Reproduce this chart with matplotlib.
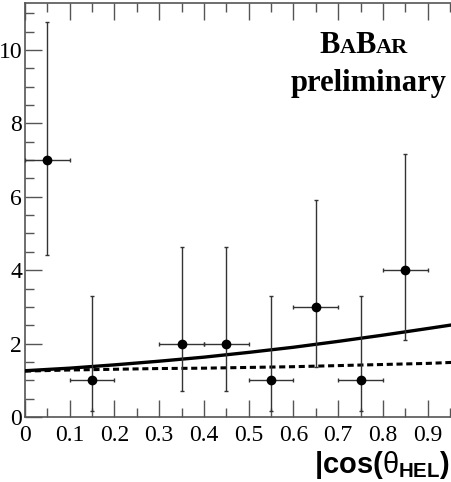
import matplotlib
matplotlib.use('Agg')
import matplotlib.pyplot as plt
from matplotlib.ticker import MultipleLocator
from matplotlib.offsetbox import TextArea, HPacker, AnchoredOffsetbox

# ── Data ─────────────────────────────────────────────────────────────────────
bin_x = [0.05, 0.15, 0.35, 0.45, 0.55, 0.65, 0.75, 0.85]
bin_half = [0.05] * 8
counts = [7, 1, 2, 2, 1, 3, 1, 4]
err_lo = [2.58, 0.83, 1.29, 1.29, 0.83, 1.63, 0.83, 1.91]
err_hi = [3.77, 2.30, 2.64, 2.64, 2.30, 2.92, 2.30, 3.16]

curve_x = [0.0, 0.1, 0.2, 0.3, 0.4, 0.5, 0.6, 0.7, 0.8, 0.9, 0.96]
total_fit = [1.26, 1.33, 1.42, 1.52, 1.63, 1.76, 1.90, 2.06, 2.23, 2.41, 2.52]
bkg_fit = [1.25, 1.28, 1.30, 1.32, 1.33, 1.35, 1.37, 1.40, 1.43, 1.46, 1.49]

x_ticks = [0.0, 0.1, 0.2, 0.3, 0.4, 0.5, 0.6, 0.7, 0.8, 0.9]
x_ticklabels = ['0', '0.1', '0.2', '0.3', '0.4', '0.5', '0.6', '0.7', '0.8', '0.9']
y_ticks = [0, 2, 4, 6, 8, 10]
y_ticklabels = ['0', '2', '4', '6', '8', '10']

SERIF = 'Liberation Serif'
AXCOL = '#555555'

plt.rcParams['mathtext.fontset'] = 'custom'
plt.rcParams['mathtext.rm'] = 'Liberation Sans'
plt.rcParams['mathtext.it'] = 'Liberation Sans'
plt.rcParams['mathtext.bf'] = 'Liberation Sans:bold'

fig = plt.figure(figsize=(4.51, 4.82), dpi=100, facecolor='white')
ax = fig.add_axes([0.0554, 0.1349, 0.9446, 0.8589])

ax.plot(curve_x, total_fit, color='black', lw=2.4, zorder=3)
ax.plot(curve_x, bkg_fit, color='black', lw=2.2, ls=(0, (2.0, 1.2)), zorder=3)

ax.errorbar(bin_x, counts, xerr=bin_half, yerr=[err_lo, err_hi],
            fmt='o', color='black', ms=6, ecolor='#333333', elinewidth=1.0,
            capsize=1.5, capthick=1.0, zorder=4)

ax.set_xlim(0, 0.952)
ax.set_ylim(0, 11.28)

ax.xaxis.set_minor_locator(MultipleLocator(0.05))
ax.yaxis.set_minor_locator(MultipleLocator(0.5))

ax.tick_params(which='both', direction='in', top=True, right=False,
               color=AXCOL, width=1.0)
ax.tick_params(which='major', length=12)
ax.tick_params(which='minor', length=6.5)
ax.tick_params(axis='x', which='major', pad=6)
ax.tick_params(axis='y', which='major', pad=2)

ax.set_xticks(x_ticks)
ax.set_xticklabels(x_ticklabels)
ax.set_yticks(y_ticks)
ax.set_yticklabels(y_ticklabels)
for lab in ax.get_xticklabels() + ax.get_yticklabels():
    lab.set_fontfamily(SERIF)
    lab.set_fontsize(17)

for side in ['left', 'bottom', 'top']:
    ax.spines[side].set_color(AXCOL)
    ax.spines[side].set_linewidth(1.2)
ax.spines['right'].set_visible(False)

# axis title, bold sans, at lower right
fig.text(0.999, 0.002, r'|cos($\theta_{\mathbf{HEL}}$)',
         ha='right', va='bottom', fontsize=21, fontweight='bold',
         family='Liberation Sans')

# BaBar small-caps logo
pieces = [('B', 22), ('A', 16), ('B', 22), ('AR', 16)]
boxes = [TextArea(t, textprops=dict(fontsize=s, fontweight='bold', family=SERIF))
         for t, s in pieces]
logo = HPacker(children=boxes, align='baseline', pad=0, sep=0)
ab = AnchoredOffsetbox(loc='center', child=logo, frameon=False,
                       bbox_to_anchor=(0.807, 0.906), bbox_transform=fig.transFigure)
fig.add_artist(ab)
fig.text(0.818, 0.826, 'preliminary', ha='center', va='center',
         fontsize=22, fontweight='bold', family=SERIF)

fig.savefig('out.png', dpi=100, facecolor='white')
